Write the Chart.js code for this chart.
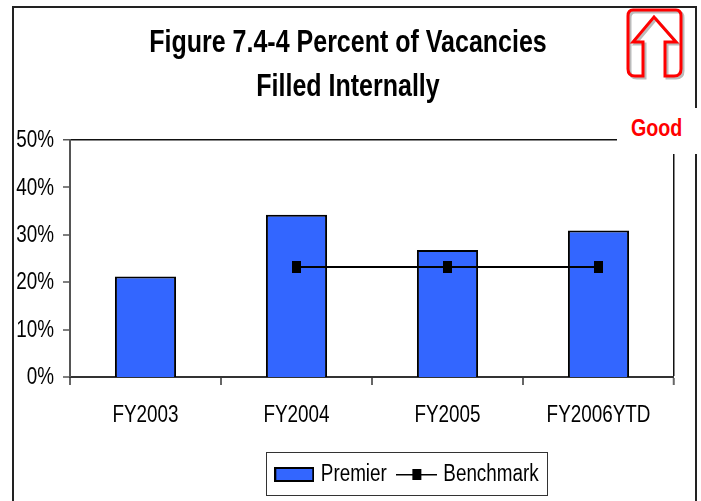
<!DOCTYPE html>
<html>
<head>
<meta charset="utf-8">
<script src="https://cdn.jsdelivr.net/npm/chart.js@4"></script>
<style>
  html, body { margin: 0; padding: 0; background: #fff; overflow: hidden; }
  #wrap { position: relative; width: 701px; height: 501px; }
  #frame { position: absolute; left: 12px; top: 6px; width: 685px; height: 530px; border: 2px solid #222; box-sizing: border-box; }
  canvas#chart { position: absolute; left: 0; top: 0; }
  #good { position: absolute; left: 617px; top: 108px; width: 84px; height: 46px; background: #fff; padding-left: 14px; box-sizing: border-box;
    font: bold 24px "Liberation Sans", Arial, sans-serif; color: #f00; line-height: 40px; }
  #good span { display: inline-block; transform: scaleX(0.82); transform-origin: left center; }
  #icon { position: absolute; left: 625px; top: 6px; }
</style>
</head>
<body>
<div id="wrap">
  <div id="frame"></div>
  <canvas id="chart" width="701" height="501"></canvas>
  <div id="good"><span>Good</span></div>
  <svg id="icon" width="64" height="76" viewBox="0 0 64 76">
    <path d="M8 4 H51 Q56 4 56 10 V63 Q56 70 49 70 H40 V36 H51 L29 11 L8 36 H18 V70 H10 Q3 70 3 63 V10 Q3 4 8 4 Z" fill="none" stroke="#bbb" stroke-width="3" transform="translate(2 2)"/>
    <path d="M8 4 H51 Q56 4 56 10 V63 Q56 70 49 70 H40 V36 H51 L29 11 L8 36 H18 V70 H10 Q3 70 3 63 V10 Q3 4 8 4 Z" fill="none" stroke="#f00" stroke-width="3"/>
  </svg>
</div>
<script>
const categories = ["FY2003", "FY2004", "FY2005", "FY2006YTD"];
const premier = [21.2, 34.2, 26.8, 30.9];
const benchmark = [null, 23.2, 23.2, 23.2];
const tickLabels = ["0%", "10%", "20%", "30%", "40%", "50%"];
const titleLines = ["Figure 7.4-4 Percent of Vacancies", "Filled Internally"];

const fontFamily = '"Liberation Sans", Arial, sans-serif';
const blue = "#3366ff";
const narrow = 0.82;

const canvas = document.getElementById("chart");
const ctx = canvas.getContext("2d");

// source font is a narrow Arial, not installed here, so squeeze all the text sideways
const fillText = ctx.fillText.bind(ctx);
const measureText = ctx.measureText.bind(ctx);
ctx.measureText = (t) => ({ width: measureText(t).width * narrow });
ctx.fillText = (t, x, y) => fillText(t, x, y, measureText(t).width * narrow);

function makeCanvas(w, h, draw) {
  const c = document.createElement("canvas");
  c.width = w;
  c.height = h;
  draw(c.getContext("2d"));
  return c;
}

// the marker is taller than wide, so it can't be the built-in rect
const marker = makeCanvas(9, 12, (g) => {
  g.fillStyle = "#000";
  g.fillRect(0, 0, 9, 12);
});
const premierSwatch = makeCanvas(40, 15, (g) => {
  g.fillStyle = blue;
  g.fillRect(0, 0, 40, 15);
  g.strokeStyle = "#000";
  g.lineWidth = 2;
  g.strokeRect(1, 1, 38, 13);
});
const benchmarkSwatch = makeCanvas(41, 11, (g) => {
  g.fillStyle = "#000";
  g.fillRect(0, 5, 41, 1.5);
  g.fillRect(16, 0, 9, 11);
});

const textLook = {
  id: "textLook",
  afterLayout(chart) {
    // legend and title sit right of centre in the source
    chart.legend.left += 72;
    chart.legend.right += 72;
    chart.titleBlock.left += 11;
    chart.titleBlock.right += 11;
  },
  afterDraw(chart) {
    const c = chart.ctx;
    c.save();
    c.strokeStyle = "#333";
    c.lineWidth = 1;
    c.strokeRect(266.5, 452.5, 281, 43);
    c.restore();
  }
};

new Chart(ctx, {
  data: {
    labels: categories,
    datasets: [
      {
        type: "line",
        label: "Benchmark",
        data: benchmark,
        borderColor: "#000",
        borderWidth: 2,
        pointStyle: marker,
        order: 1
      },
      {
        type: "bar",
        label: "Premier",
        data: premier,
        backgroundColor: blue,
        borderColor: "#000",
        borderWidth: 2,
        categoryPercentage: 1,
        barPercentage: 0.405,
        order: 2
      }
    ]
  },
  options: {
    responsive: false,
    animation: false,
    layout: { padding: { left: 0, right: 27, top: 0, bottom: 5 } },
    plugins: {
      title: {
        display: true,
        text: titleLines,
        color: "#000",
        font: { family: fontFamily, size: 30.5, weight: "bold", lineHeight: 1.44 },
        padding: { top: 22, bottom: 30 }
      },
      legend: {
        position: "bottom",
        labels: {
          color: "#000",
          font: { family: fontFamily, size: 23 },
          usePointStyle: true,
          pointStyleWidth: 30,
          padding: 15,
          generateLabels: () => [
            { text: "Premier", pointStyle: premierSwatch, fontColor: "#000", lineWidth: 0 },
            { text: "Benchmark", pointStyle: benchmarkSwatch, fontColor: "#000", lineWidth: 0 }
          ]
        }
      },
      tooltip: { enabled: false }
    },
    scales: {
      x: {
        afterFit(axis) { axis.height = 71; },
        grid: {
          drawOnChartArea: true,
          tickLength: 8,
          tickWidth: 2,
          tickColor: "#666",
          color: "#111",
          // only the closing line on the right runs up the plot
          lineWidth: (c) => (c.index === undefined ? 1.5 : 0)
        },
        border: { color: "#333", width: 2 },
        ticks: { color: "#000", font: { family: fontFamily, size: 23 }, padding: 17, maxRotation: 0 }
      },
      y: {
        min: 0,
        max: 50,
        afterFit(axis) { axis.width = 70; },
        afterBuildTicks(axis) { axis.ticks = tickLabels.map((t, i) => ({ value: i * 10 })); },
        grid: {
          drawOnChartArea: true,
          tickLength: 7,
          tickWidth: 1.5,
          tickColor: "#555",
          lineWidth: (c) => (c.tick && c.tick.value === 50 ? 1.5 : 0),
          color: "#111"
        },
        border: { color: "#555", width: 2 },
        ticks: {
          color: "#000",
          font: { family: fontFamily, size: 23 },
          padding: 9,
          labelOffset: 1,
          callback: (v) => tickLabels[v / 10]
        }
      }
    }
  },
  plugins: [textLook]
});
</script>
</body>
</html>
